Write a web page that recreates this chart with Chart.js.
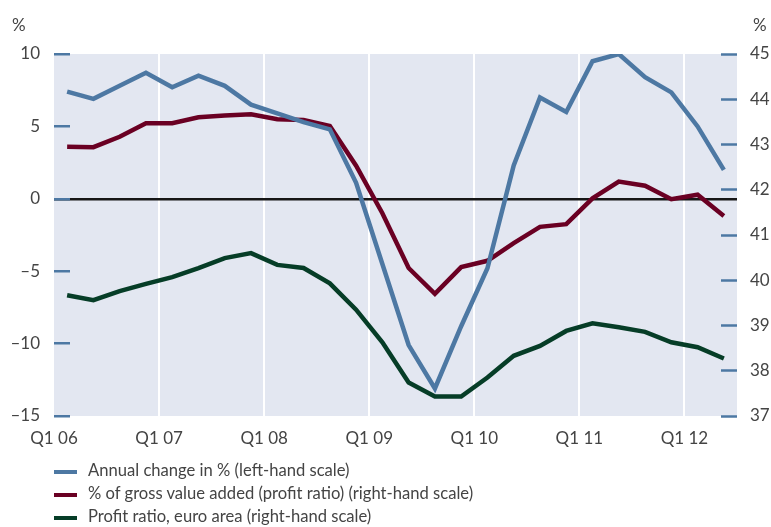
<!DOCTYPE html>
<html>
<head>
<meta charset="utf-8">
<title>Profit ratio</title>
<script src="https://cdn.jsdelivr.net/npm/chart.js@4/dist/chart.umd.min.js"></script>
<style>
  html, body { margin: 0; padding: 0; background: #fff; }
  #wrap { position: relative; width: 771px; height: 527px; font-family: Lato, "Open Sans", sans-serif; color: #444; }
  #chart { position: absolute; left: 0; top: 0; }
  .unit { position: absolute; top: 14px; font-size: 17px; }
  #legend { position: absolute; left: 54px; top: 459px; font-size: 16.6px; }
  #legend div { height: 23px; line-height: 23px; white-space: nowrap; }
  #legend span { display: inline-block; width: 23px; height: 4px; margin-right: 11px; vertical-align: middle; }
</style>
</head>
<body>
<div id="wrap">
  <canvas id="chart" width="771" height="527"></canvas>
  <div class="unit" style="left:12px">%</div>
  <div class="unit" style="left:753px">%</div>
  <div id="legend"></div>
</div>
<script>
// ============================================
// DATA (one value per quarter, Q1 06 .. Q2 12)
// ============================================
const quarters = [
  'Q1 06', 'Q2 06', 'Q3 06', 'Q4 06', 'Q1 07', 'Q2 07', 'Q3 07', 'Q4 07',
  'Q1 08', 'Q2 08', 'Q3 08', 'Q4 08', 'Q1 09', 'Q2 09', 'Q3 09', 'Q4 09',
  'Q1 10', 'Q2 10', 'Q3 10', 'Q4 10', 'Q1 11', 'Q2 11', 'Q3 11', 'Q4 11',
  'Q1 12', 'Q2 12'
];
const xTickLabels = ['Q1 06', 'Q1 07', 'Q1 08', 'Q1 09', 'Q1 10', 'Q1 11', 'Q1 12'];

// left-hand scale, annual change in %
const annualChange = [
  7.4, 6.9, 7.8, 8.7, 7.7, 8.5, 7.8, 6.5, 5.9, 5.3, 4.8, 1.1, -4.5,
  -10.1, -13.1, -8.8, -4.8, 2.3, 7.0, 6.0, 9.5, 10.0, 8.4, 7.35, 5.0, 2.0
];
// right-hand scale, profit ratio
const profitRatio = [
  42.95, 42.94, 43.17, 43.47, 43.47, 43.6, 43.64, 43.67, 43.56, 43.54, 43.41, 42.53, 41.48,
  40.27, 39.7, 40.29, 40.43, 40.82, 41.18, 41.24, 41.81, 42.18, 42.09, 41.79, 41.89, 41.42
];
// right-hand scale, euro area
const profitRatioEuro = [
  39.67, 39.56, 39.76, 39.92, 40.07, 40.27, 40.49, 40.6, 40.34, 40.27, 39.93, 39.35, 38.63,
  37.74, 37.43, 37.43, 37.85, 38.33, 38.55, 38.88, 39.05, 38.96, 38.86, 38.63, 38.52, 38.27
];

const seriesNames = [
  'Annual change in % (left-hand scale)',
  '% of gross value added (profit ratio) (right-hand scale)',
  'Profit ratio, euro area (right-hand scale)'
];
const leftRange = [-15, 10];
const rightRange = [37, 45];

// ============================================
// STYLE
// ============================================
const BLUE = '#4d78a3';
const RED = '#6a0023';
const GREEN = '#063d27';
const PLOT_BG = '#e3e7f1';
const TEXT = '#444444';
const FONT = { family: 'Lato, "Open Sans", sans-serif', size: 17 };

function toPoints(values) {
  // plot each quarter in the middle of its slot
  return values.map((v, i) => ({ x: i + 0.5, y: v }));
}

function fmt(v) {
  return v < 0 ? '\u2013' + Math.abs(v) : String(v);
}

// plot area background
const plotBackground = {
  id: 'plotBackground',
  beforeDraw(chart) {
    const { ctx, chartArea } = chart;
    ctx.save();
    ctx.fillStyle = PLOT_BG;
    ctx.fillRect(chartArea.left, chartArea.top, chartArea.right - chartArea.left, chartArea.bottom - chartArea.top);
    ctx.restore();
  }
};

const ctx = document.getElementById('chart').getContext('2d');
const chart = new Chart(ctx, {
  type: 'line',
  data: {
    datasets: [
      { label: seriesNames[0], data: toPoints(annualChange), yAxisID: 'yLeft', borderColor: BLUE },
      { label: seriesNames[1], data: toPoints(profitRatio), yAxisID: 'yRight', borderColor: RED },
      { label: seriesNames[2], data: toPoints(profitRatioEuro), yAxisID: 'yRight', borderColor: GREEN }
    ]
  },
  options: {
    responsive: false,
    animation: false,
    layout: { padding: { top: 54, left: 0, right: 0, bottom: 0 } },
    elements: {
      line: { borderWidth: 4.5, tension: 0, fill: false },
      point: { radius: 0, hoverRadius: 0 }
    },
    plugins: {
      legend: { display: false },
      tooltip: { enabled: false }
    },
    scales: {
      x: {
        type: 'linear',
        min: 0,
        max: quarters.length,
        afterBuildTicks(scale) {
          scale.ticks = xTickLabels.map((_, i) => ({ value: i * 4 }));
        },
        afterFit(scale) { scale.height = 111; },
        ticks: {
          autoSkip: false,
          maxRotation: 0,
          padding: 12,
          color: TEXT,
          font: FONT,
          callback: (v) => xTickLabels[v / 4]
        },
        grid: {
          drawTicks: false,
          lineWidth: 2,
          color: (c) => (c.tick && c.tick.value > 0 ? '#ffffff' : 'rgba(0,0,0,0)')
        },
        border: { display: false }
      },
      yLeft: {
        position: 'left',
        min: leftRange[0],
        max: leftRange[1],
        afterFit(scale) { scale.width = 54; },
        ticks: { stepSize: 5, padding: 30, color: TEXT, font: FONT, callback: fmt },
        grid: {
          tickLength: -16,
          tickWidth: 2.5,
          tickColor: BLUE,
          lineWidth: 2.5,
          color: (c) => (c.tick && c.tick.value === 0 ? '#161616' : 'rgba(0,0,0,0)')
        },
        border: { display: false }
      },
      yRight: {
        position: 'right',
        min: rightRange[0],
        max: rightRange[1],
        afterFit(scale) { scale.width = 34; },
        ticks: { stepSize: 1, padding: 29, color: TEXT, font: FONT },
        grid: {
          drawOnChartArea: false,
          tickLength: -16,
          tickWidth: 2.5,
          tickColor: BLUE
        },
        border: { display: false }
      }
    }
  },
  plugins: [plotBackground]
});

// ============================================
// LEGEND (one row per series)
// ============================================
const legendEl = document.getElementById('legend');
chart.data.datasets.forEach(ds => {
  const row = document.createElement('div');
  const swatch = document.createElement('span');
  swatch.style.background = ds.borderColor;
  row.appendChild(swatch);
  row.appendChild(document.createTextNode(ds.label));
  legendEl.appendChild(row);
});
</script>
</body>
</html>
